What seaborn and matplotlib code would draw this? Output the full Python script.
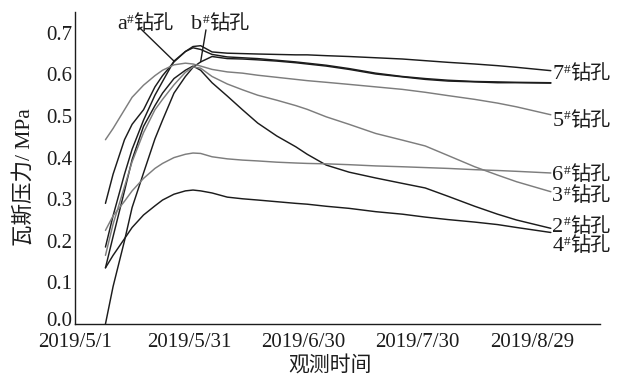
import matplotlib
matplotlib.use("Agg")
import matplotlib.pyplot as plt
import matplotlib.dates as mdates
import matplotlib.transforms as mtransforms
import pandas as pd
import seaborn as sns

# ---- observation data -------------------------------------------------
dates = ["2019-05-09", "2019-05-11", "2019-05-14", "2019-05-16", "2019-05-19",
         "2019-05-22", "2019-05-24", "2019-05-27", "2019-05-30", "2019-06-01",
         "2019-06-03", "2019-06-06", "2019-06-10", "2019-06-14", "2019-06-18",
         "2019-06-23", "2019-06-28", "2019-07-01", "2019-07-06", "2019-07-12",
         "2019-07-19", "2019-07-26", "2019-08-01", "2019-08-07", "2019-08-14",
         "2019-08-20", "2019-08-25", "2019-09-03"]

p7 = [0.290, 0.360, 0.443, 0.480, 0.515, 0.570, 0.597, 0.630, 0.655, 0.667,
      0.669, 0.654, 0.651, 0.650, 0.649, 0.648, 0.647, 0.647, 0.645, 0.643,
      0.640, 0.637, 0.633, 0.629, 0.625, 0.621, 0.617, 0.609]
pa = [0.185, 0.260, 0.360, 0.420, 0.490, 0.550, 0.583, 0.632, 0.655, 0.664,
      0.660, 0.648, 0.642, 0.640, 0.638, 0.634, 0.630, 0.627, 0.622, 0.614,
      0.603, 0.595, 0.590, 0.586, 0.583, 0.582, 0.581, 0.580]
pb = [0.000, 0.090, 0.200, 0.280, 0.363, 0.445, 0.490, 0.555, 0.595, 0.617,
      0.630, 0.643, 0.638, 0.637, 0.635, 0.632, 0.628, 0.625, 0.620, 0.612,
      0.601, 0.594, 0.588, 0.584, 0.582, 0.580, 0.580, 0.579]
p2 = [0.135, 0.210, 0.320, 0.395, 0.475, 0.525, 0.555, 0.590, 0.610, 0.620,
      0.610, 0.580, 0.548, 0.515, 0.483, 0.452, 0.426, 0.408, 0.382, 0.365,
      0.351, 0.338, 0.327, 0.307, 0.283, 0.264, 0.250, 0.230]
p3 = [0.165, 0.240, 0.330, 0.390, 0.460, 0.515, 0.540, 0.575, 0.605, 0.618,
      0.615, 0.595, 0.577, 0.563, 0.550, 0.538, 0.525, 0.516, 0.498, 0.480,
      0.458, 0.442, 0.428, 0.405, 0.378, 0.358, 0.342, 0.318]
p4 = [0.135, 0.165, 0.205, 0.232, 0.262, 0.284, 0.298, 0.312, 0.320, 0.322,
      0.320, 0.315, 0.305, 0.301, 0.298, 0.294, 0.290, 0.288, 0.283, 0.278,
      0.270, 0.264, 0.257, 0.251, 0.245, 0.239, 0.232, 0.220]
p5 = [0.443, 0.470, 0.515, 0.545, 0.574, 0.597, 0.610, 0.623, 0.627, 0.625,
      0.620, 0.612, 0.606, 0.603, 0.598, 0.593, 0.588, 0.585, 0.581, 0.576,
      0.570, 0.564, 0.557, 0.549, 0.540, 0.531, 0.522, 0.503]
p6 = [0.225, 0.260, 0.295, 0.320, 0.350, 0.374, 0.386, 0.400, 0.408, 0.411,
      0.410, 0.402, 0.397, 0.394, 0.392, 0.389, 0.387, 0.386, 0.385, 0.383,
      0.380, 0.378, 0.376, 0.374, 0.371, 0.369, 0.367, 0.363]

holes = ["7", "a", "b", "2", "3", "4", "5", "6"]
series = [p7, pa, pb, p2, p3, p4, p5, p6]

xtick_dates = ["2019-05-01", "2019-05-31", "2019-06-30", "2019-07-30", "2019-08-29"]
xtick_labels = ["2019/5/1", "2019/5/31", "2019/6/30", "2019/7/30", "2019/8/29"]
ytick_values = [0.0, 0.1, 0.2, 0.3, 0.4, 0.5, 0.6, 0.7]

# ---- styling ----------------------------------------------------------
DARK = "#1c1c1c"
GRAY = "#7d7d7d"
colors = {"7": DARK, "a": DARK, "b": DARK, "2": DARK, "4": DARK,
          "3": GRAY, "5": GRAY, "6": GRAY}
SERIF = ["Liberation Serif", "Noto Sans CJK SC"]
CJK = ["Noto Sans CJK SC", "DejaVu Sans"]

sns.set_theme(style="white")
plt.rcParams["font.family"] = SERIF

df = pd.concat(
    [pd.DataFrame({"date": pd.to_datetime(dates), "pressure": vals, "hole": h})
     for h, vals in zip(holes, series)],
    ignore_index=True,
)

fig = plt.figure(figsize=(6.22, 3.81), dpi=100)
ax = fig.add_axes([75 / 622, 57 / 381, 525 / 622, 312 / 381])

sns.lineplot(data=df, x="date", y="pressure", hue="hole", palette=colors,
             linewidth=1.05, legend=False, ax=ax, sort=True)

# ---- axes -------------------------------------------------------------
ax.set_xlim(pd.Timestamp("2019-05-01"), pd.Timestamp("2019-09-15 22:00"))
ax.set_ylim(0, 0.75)
ax.set_xticks(pd.to_datetime(xtick_dates))
ax.set_xticklabels(xtick_labels)
ax.set_yticks(ytick_values)
ax.set_yticklabels([f"{v:.1f}" for v in ytick_values])
ax.tick_params(axis="both", direction="in", length=5, width=0.9, colors=DARK,
               labelsize=15, labelcolor=DARK)
ax.tick_params(axis="x", pad=6.5)
ax.tick_params(axis="y", pad=2)
for side in ("top", "right"):
    ax.spines[side].set_visible(False)
for side in ("left", "bottom"):
    ax.spines[side].set_color(DARK)
    ax.spines[side].set_linewidth(1.0)

# lift the "0.0" label a little so it sits clear of the date labels
zero_label = ax.get_yticklabels()[0]
zero_label.set_transform(zero_label.get_transform()
                         + mtransforms.ScaledTranslation(0, 3.5 / 72, fig.dpi_scale_trans))

ax.set_xlabel("观测时间", fontsize=15, family=CJK, color=DARK)
ax.set_ylabel("瓦斯压力/ MPa", fontsize=15.5, family=SERIF, color=DARK)
ax.xaxis.set_label_coords(0.486, -0.094)
ax.yaxis.set_label_coords(-0.077, 0.47)

# ---- borehole labels --------------------------------------------------
renderer = fig.canvas.get_renderer()


def borehole_label(x, y, tag):
    """Write '<tag>#钻孔' with a raised '#', left edge at data point (x, y)."""
    parts = [(tag, 16, SERIF, -5.4), ("#", 9.5, SERIF, -0.6), ("钻孔", 14.5, CJK, -5.4)]
    off = 0.0
    for s, fs, fam, rise in parts:
        t = ax.annotate(s, xy=(x, y), xycoords="data", xytext=(off, rise),
                        textcoords="offset points", fontsize=fs, family=fam,
                        ha="left", va="baseline", color=DARK,
                        annotation_clip=False)
        off += t.get_window_extent(renderer).width * 72.0 / fig.dpi


day0 = pd.Timestamp("2019-05-01")
end_x = mdates.date2num(pd.Timestamp(dates[-1]) + pd.Timedelta(days=0.4))
right_label_y = {"7": 0.606, "5": 0.494, "6": 0.363, "3": 0.313, "2": 0.239, "4": 0.193}
for tag, yv in right_label_y.items():
    borehole_label(end_x, yv, tag)

# top labels with leader lines to their curves
a_text = mdates.date2num(day0 + pd.Timedelta(days=11.0))
b_text = mdates.date2num(day0 + pd.Timedelta(days=30.6))
borehole_label(a_text, 0.726, "a")
borehole_label(b_text, 0.726, "b")

leader = dict(arrowstyle="-", color=DARK, lw=1.0, shrinkA=0, shrinkB=0)
ax.annotate("", xy=(mdates.date2num(pd.Timestamp(dates[7])), pa[7]),
            xytext=(mdates.date2num(day0 + pd.Timedelta(days=17.0)), 0.712),
            arrowprops=leader, annotation_clip=False)
ax.annotate("", xy=(mdates.date2num(pd.Timestamp(dates[10])), pb[10]),
            xytext=(mdates.date2num(day0 + pd.Timedelta(days=34.4)), 0.707),
            arrowprops=leader, annotation_clip=False)

fig.savefig("out.png", dpi=100, facecolor="white")
